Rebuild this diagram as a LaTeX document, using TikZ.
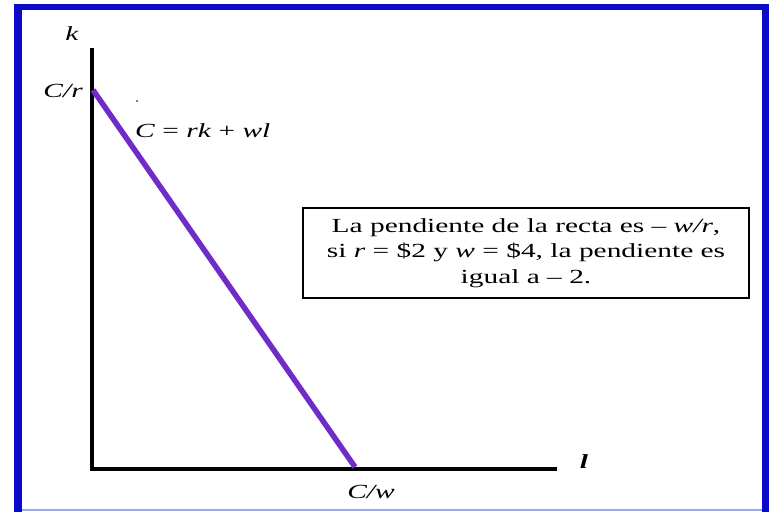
\documentclass[tikz,border=0pt]{standalone}
\usepackage{fontspec}
\usepackage{graphicx}
\setmainfont{Liberation Serif}
\newcommand{\wide}[1]{\scalebox{1.47}[1]{#1}}
\begin{document}
\begin{tikzpicture}[x=1pt,y=-1pt,
  axis/.style={line width=4.5pt},
  budget/.style={line width=5.5pt,color=purpleline},
  lbl/.style={inner sep=0pt,font=\fontsize{20}{24}\selectfont},
  infobox/.style={draw,line width=1.2pt,minimum width=446pt,minimum height=90pt,inner sep=0pt},
  infotext/.style={align=center,inner sep=0pt,font=\fontsize{20}{25.5}\selectfont}]
\definecolor{purpleline}{RGB}{112,44,200}
\definecolor{frameblue}{RGB}{10,10,200}
\definecolor{lightblue}{RGB}{150,170,240}
\useasboundingbox (0,0) rectangle (769,512);
\fill[white] (0,0) rectangle (769,512);
% frame
\fill[frameblue] (14,4) rectangle (769,10);
\fill[frameblue] (14,4) rectangle (22,512);
\fill[frameblue] (762,4) rectangle (769,512);
\draw[lightblue,line width=1.5pt] (22,510) -- (762,510);
% axes
\coordinate (O) at (92,469);
\coordinate (ktop) at (92,48);
\coordinate (lend) at (557,469);
\coordinate (A) at (93,90);
\coordinate (B) at (355,467);
\draw[axis] (ktop) -- (O) -- (lend);
\draw[budget] (A) -- (B);
\fill[purpleline] (137,101) circle (1.2pt);
% labels
\node[lbl] (k) at (72,34) {\wide{\textit{k}}};
\node[lbl,anchor=east] (cr) at (83,91) {\wide{\textit{C/r}}};
\node[lbl,anchor=west] (eq) at (135,131) {\wide{\textit{C} = \textit{rk} + \textit{wl}}};
\node[lbl] (l) at (584,462) {\wide{\textbf{\textit{l}}}};
\node[lbl] (cw) at (371,492) {\wide{\textit{C/w}}};
\node[infobox] (box) at (526,253) {};
\node[infotext] (boxtext) at (box.center) {\wide{La pendiente de la recta es -- \textit{w/r},}\\\wide{si \textit{r} = \$2 y \textit{w} = \$4, la pendiente es}\\\wide{igual a -- 2.}};
\end{tikzpicture}
\end{document}
